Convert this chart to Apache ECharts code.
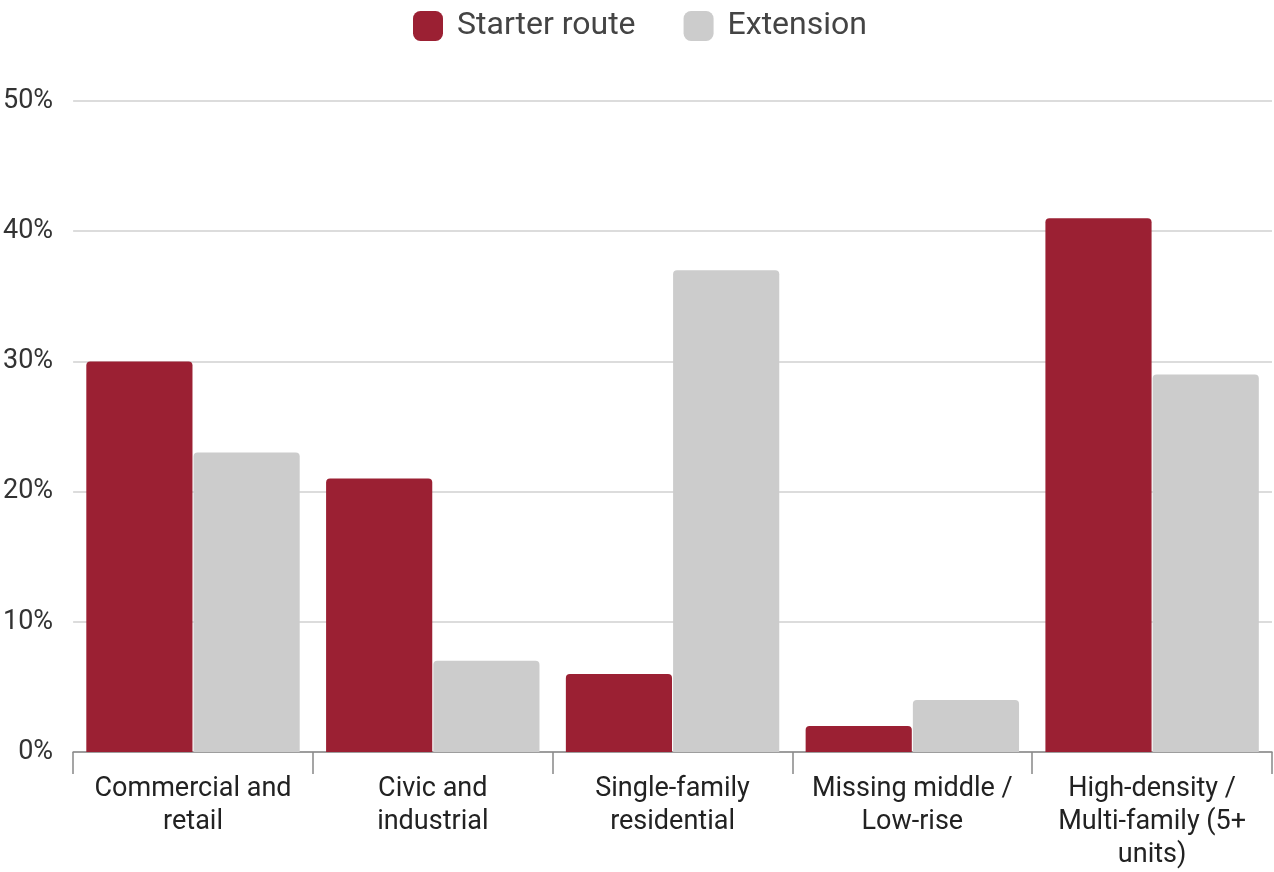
<!DOCTYPE html>
<html>
<head>
<meta charset="utf-8">
<script src="https://cdn.jsdelivr.net/npm/echarts@6/dist/echarts.min.js"></script>
<style>
  html, body { margin: 0; padding: 0; background: #fff; }
  #chart { width: 1274px; height: 872px; }
</style>
</head>
<body>
<div id="chart"></div>
<script>
// Land-use share along each transit segment
const categories = [
  'Commercial and\nretail',
  'Civic and\nindustrial',
  'Single-family\nresidential',
  'Missing middle /\nLow-rise',
  'High-density /\nMulti-family (5+\nunits)'
];
const starterRoute = [30, 21, 6, 2, 41];
const extension = [23, 7, 37, 4, 29];
const yTicks = [0, 10, 20, 30, 40, 50];

const font = 'Roboto, "Noto Sans", sans-serif';
const chart = echarts.init(document.getElementById('chart'), null, { renderer: 'canvas' });

chart.setOption({
  animation: false,
  textStyle: { fontFamily: font },
  legend: {
    top: 5,
    left: 408,
    itemWidth: 30,
    itemHeight: 30,
    itemGap: 48,
    icon: 'roundRect',
    textStyle: { fontSize: 32, color: '#444', fontFamily: font, padding: [0, 0, 0, 9] },
    data: ['Starter route', 'Extension']
  },
  grid: { left: 73, right: 2, top: 101, bottom: 119, containLabel: false },
  xAxis: {
    type: 'category',
    data: categories,
    axisLine: { lineStyle: { color: '#888', width: 1.5 } },
    axisTick: { show: true, length: 22, lineStyle: { color: '#888', width: 1.5 } },
    axisLabel: {
      fontSize: 27, color: '#222', fontFamily: font, lineHeight: 33, margin: 21, interval: 0
    }
  },
  yAxis: {
    type: 'value',
    min: yTicks[0],
    max: yTicks[yTicks.length - 1],
    interval: 10,
    axisLine: { show: false },
    axisTick: { show: false },
    splitLine: { lineStyle: { color: '#d0d0d0', width: 1.5 } },
    axisLabel: {
      fontSize: 27, color: '#333', fontFamily: font, margin: 20,
      formatter: v => v + '%'
    }
  },
  series: [
    {
      name: 'Starter route',
      type: 'bar',
      data: starterRoute,
      barGap: '1%',
      barCategoryGap: '11%',
      itemStyle: { color: '#9b2033', borderRadius: [4, 4, 0, 0] }
    },
    {
      name: 'Extension',
      type: 'bar',
      data: extension,
      itemStyle: { color: '#cccccc', borderRadius: [4, 4, 0, 0] }
    }
  ]
});
</script>
</body>
</html>
